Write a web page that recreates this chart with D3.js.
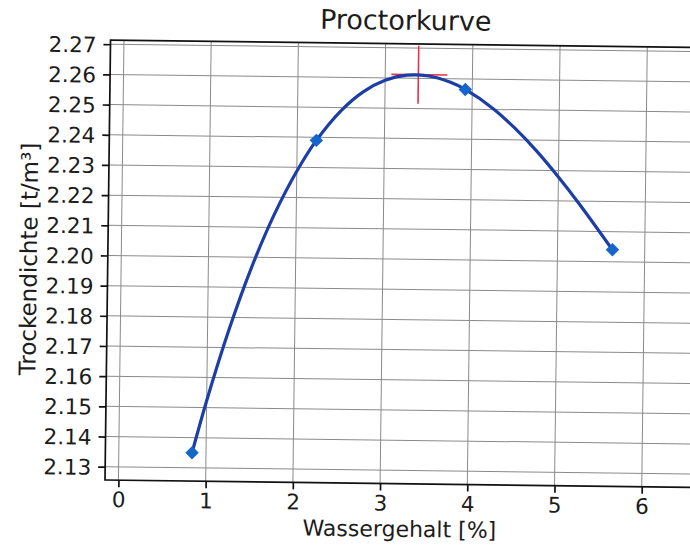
<!DOCTYPE html>
<html><head><meta charset="utf-8">
<script src="https://cdn.jsdelivr.net/npm/d3@7"></script>
<style>
body{margin:0;background:#fff}
svg text{font-family:"DejaVu Sans",sans-serif;fill:#1c1c1c}
</style>
</head><body>
<svg id="chart" width="690" height="548"></svg>
<script>
// ---- data ----
const chartTitle = "Proctorkurve";
const xLabel = "Wassergehalt [%]";
const yLabel = "Trockendichte [t/m³]";
const xTicks = [0, 1, 2, 3, 4, 5, 6];
const xTickLabels = ["0", "1", "2", "3", "4", "5", "6"];
const yTicks = [2.13, 2.14, 2.15, 2.16, 2.17, 2.18, 2.19, 2.20, 2.21, 2.22, 2.23, 2.24, 2.25, 2.26, 2.27];
const yTickLabels = ["2.13","2.14","2.15","2.16","2.17","2.18","2.19","2.20","2.21","2.22","2.23","2.24","2.25","2.26","2.27"];
// measured points
const waterContent = [0.84, 2.22, 3.92, 5.63];
const dryDensity = [2.135, 2.239, 2.2565, 2.204];
// fitted curve
const curveWater = [0.84, 1.00, 1.25, 1.50, 1.75, 2.00, 2.22, 2.50, 2.75, 3.00, 3.25, 3.50, 3.75, 3.92, 4.25, 4.50, 4.75, 5.00, 5.25, 5.63];
const curveDensity = [2.135, 2.1523, 2.1763, 2.1970, 2.2144, 2.2287, 2.239, 2.2490, 2.2553, 2.2592, 2.2610, 2.2608, 2.2588, 2.2565, 2.2501, 2.2437, 2.2363, 2.2279, 2.2188, 2.204];
// optimum marker
const optimumWater = [3.38];
const optimumDensity = [2.2612];

// ---- layout ----
const svg = d3.select("#chart");
const L = 105, R = 695, T = 40, B = 480;
const tilt = 0.72; // scan is slightly rotated
const g = svg.append("g").attr("transform", `rotate(${tilt},${L},${B})`);

const x = d3.scaleLinear().domain([-0.154, 6.61]).range([L, R]);
const y = d3.scaleLinear().domain([2.1256, 2.2714]).range([B, T]);

// grid
g.append("g").selectAll("line").data(xTicks).join("line")
  .attr("x1", d => x(d)).attr("x2", d => x(d)).attr("y1", T).attr("y2", B)
  .attr("stroke", "#8a8a8a").attr("stroke-width", 1);
g.append("g").selectAll("line").data(yTicks).join("line")
  .attr("x1", L).attr("x2", R).attr("y1", d => y(d)).attr("y2", d => y(d))
  .attr("stroke", "#8a8a8a").attr("stroke-width", 1);

// axes
const fs = 21.5;
const xAxis = g.append("g").attr("transform", `translate(0,${B})`)
  .call(d3.axisBottom(x).tickValues(xTicks).tickFormat((d, i) => xTickLabels[i]).tickSize(7).tickPadding(7));
xAxis.select(".domain").remove();
xAxis.selectAll(".tick line").attr("stroke", "#111").attr("stroke-width", 1.7);
xAxis.selectAll(".tick text").attr("y", 27).attr("dy", null)
  .style("font-size", fs + "px").style("font-family", "DejaVu Sans").attr("fill", "#1c1c1c");

const yAxis = g.append("g").attr("transform", `translate(${L},0)`)
  .call(d3.axisLeft(y).tickValues(yTicks).tickFormat((d, i) => yTickLabels[i]).tickSize(7).tickPadding(7));
yAxis.select(".domain").remove();
yAxis.selectAll(".tick line").attr("stroke", "#111").attr("stroke-width", 1.7);
yAxis.selectAll(".tick text").attr("x", -14).attr("dy", "0.36em")
  .style("font-size", fs + "px").style("font-family", "DejaVu Sans").attr("fill", "#1c1c1c");

// spines
g.append("rect").attr("x", L).attr("y", T).attr("width", R - L).attr("height", B - T)
  .attr("fill", "none").attr("stroke", "#111").attr("stroke-width", 1.7);

// optimum cross
const ox = x(optimumWater[0]), oy = y(optimumDensity[0]);
g.append("line").attr("x1", ox).attr("x2", ox).attr("y1", oy - 29).attr("y2", oy + 29)
  .attr("stroke", "#e8304a").attr("stroke-width", 1.6);
g.append("line").attr("x1", ox - 27).attr("x2", ox + 29).attr("y1", oy).attr("y2", oy)
  .attr("stroke", "#e8304a").attr("stroke-width", 1.6);

// curve
const curveData = curveWater.map((d, i) => [d, curveDensity[i]]);
g.append("path").datum(curveData)
  .attr("d", d3.line().x(d => x(d[0])).y(d => y(d[1])).curve(d3.curveCatmullRom.alpha(0.5)))
  .attr("fill", "none").attr("stroke", "#1c3ea6").attr("stroke-width", 3.2);

// markers
const pts = waterContent.map((d, i) => [d, dryDensity[i]]);
g.append("g").selectAll("path").data(pts).join("path")
  .attr("d", d3.symbol(d3.symbolSquare, 90)())
  .attr("transform", d => `translate(${x(d[0])},${y(d[1])}) rotate(45)`)
  .attr("fill", "#1466cc");

// labels
g.append("text").attr("x", (L + R) / 2).attr("y", 26).attr("text-anchor", "middle")
  .style("font-size", "27px").text(chartTitle);
g.append("text").attr("x", (L + R) / 2).attr("y", 533).attr("text-anchor", "middle")
  .style("font-size", "22px").text(xLabel);
g.append("text").attr("transform", `translate(34,${(T + B) / 2}) rotate(-90)`).attr("text-anchor", "middle")
  .style("font-size", "23px").text(yLabel);
</script>
</body></html>
